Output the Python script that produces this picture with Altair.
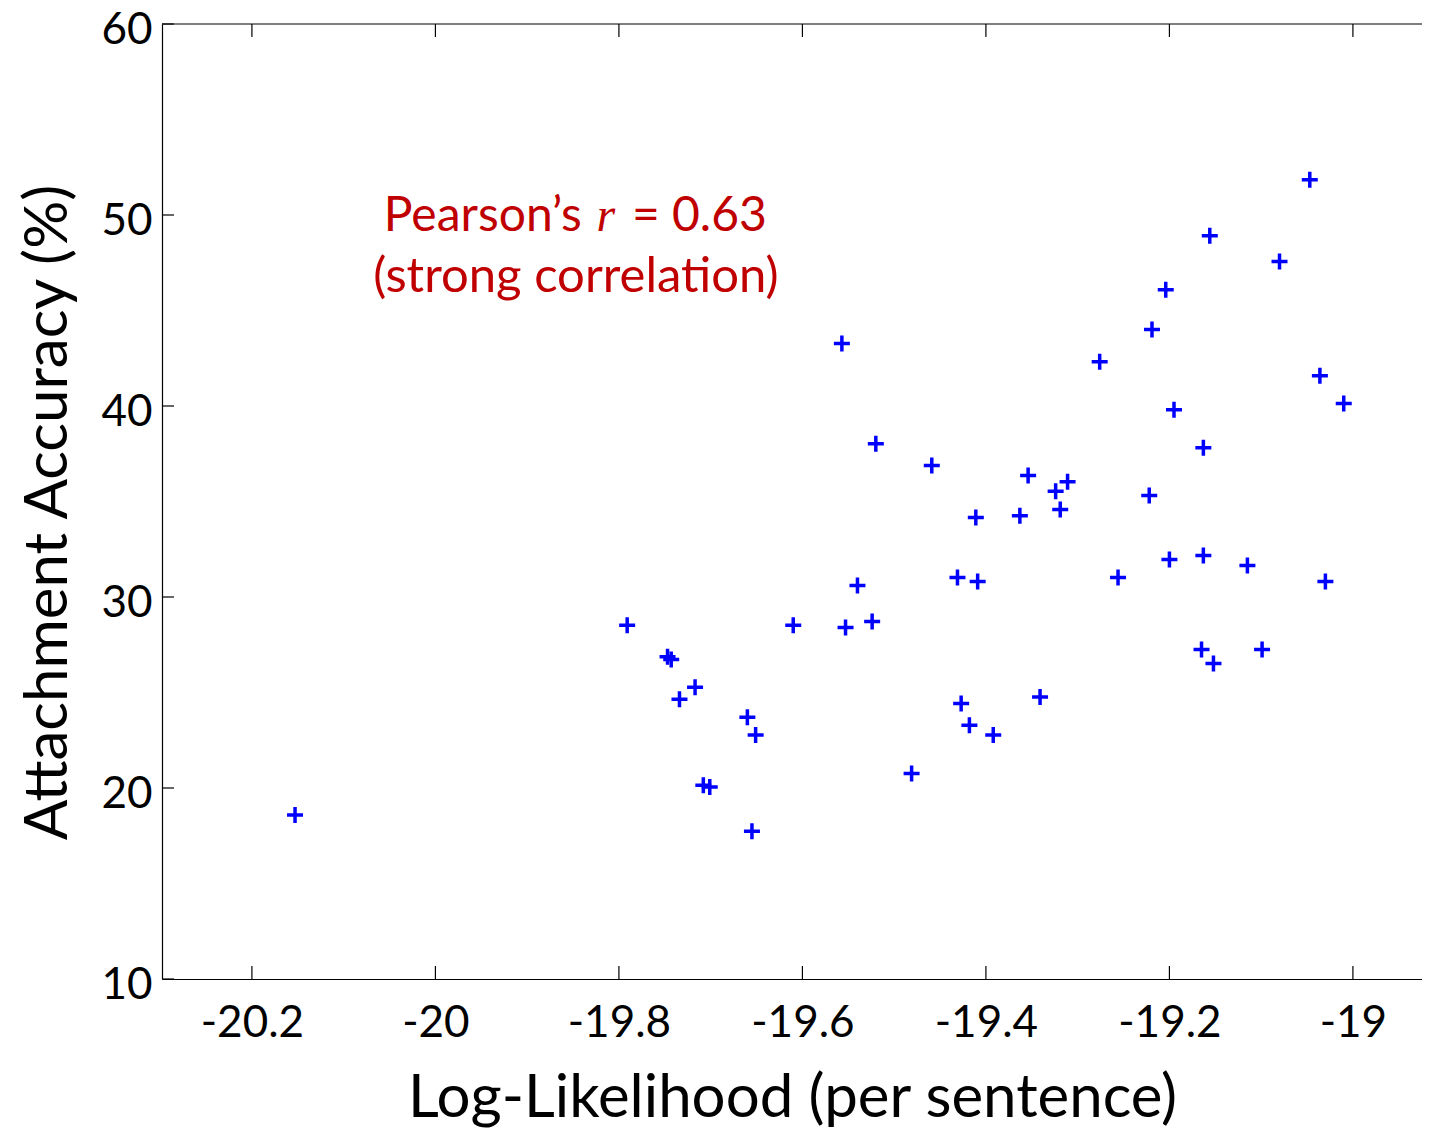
import altair as alt
import pandas as pd

# ---- data ----
log_likelihood = [
    -20.153, -19.791, -19.747, -19.743, -19.717, -19.734, -19.660, -19.651,
    -19.708, -19.701, -19.655, -19.610, -19.557, -19.520, -19.540, -19.524,
    -19.553, -19.481, -19.459, -19.354, -19.311, -19.324, -19.319, -19.411,
    -19.363, -19.431, -19.409, -19.341, -19.427, -19.418, -19.392, -19.156,
    -19.204, -19.219, -19.276, -19.195, -19.163, -19.222, -19.200, -19.163,
    -19.256, -19.165, -19.152, -19.047, -19.080, -19.036, -19.010, -19.115,
    -19.030, -19.099,
]
accuracy = [
    18.58, 28.52, 26.87, 26.73, 25.28, 24.65, 23.71, 22.77,
    20.15, 20.05, 17.74, 28.52, 43.27, 38.03, 30.60, 28.72,
    28.40, 20.76, 36.88, 36.36, 36.04, 35.54, 34.58, 34.16,
    34.26, 31.02, 30.81, 24.76, 24.43, 23.28, 22.77, 48.92,
    46.09, 44.00, 42.32, 39.81, 37.82, 35.31, 31.96, 32.17,
    31.02, 27.25, 26.52, 51.85, 47.56, 41.59, 40.13, 31.65,
    30.81, 27.25,
]

x_ticks = [-20.2, -20.0, -19.8, -19.6, -19.4, -19.2, -19.0]
y_ticks = [10, 20, 30, 40, 50, 60]

x_title = "Log-Likelihood (per sentence)"
y_title = "Attachment Accuracy (%)"

ann_line1 = ["Pearson\u2019s", "r", "= 0.63"]
ann_line2 = "(strong correlation)"
ann_x = -19.848
ann_y1 = 49.14
ann_y2 = 45.95

# ---- layout / style ----
W, H = 1260, 955
X_DOMAIN = [-20.298, -20.298 + W / 917.5]
Y_DOMAIN = [10, 60]
FONT = "Lato"
RED = "#c00000"
BLUE = "#0000ff"
AXIS_COLOR = "#000000"

xs = alt.Scale(domain=X_DOMAIN, nice=False, zero=False)
ys = alt.Scale(domain=Y_DOMAIN, nice=False, zero=False)

df = pd.DataFrame({"ll": log_likelihood, "acc": accuracy})

x_axis = alt.Axis(
    values=x_ticks, title=x_title, ticks=False, grid=False,
    labelExpr="'' + datum.value", labelFont=FONT, labelFontSize=44,
    labelColor="black", labelBaseline="alphabetic", labelPadding=57,
    labelFlush=False, labelOverlap=False, labelBound=False,
    domainColor=AXIS_COLOR, domainWidth=1.2,
    titleFont=FONT, titleFontSize=60, titleFontWeight="normal",
    titleColor="black", titleBaseline="alphabetic", titleY=137,
)
y_axis = alt.Axis(
    values=y_ticks, title=y_title, ticks=False, grid=False,
    labelExpr="'' + datum.value", labelFont=FONT, labelFontSize=44,
    labelColor="black", labelBaseline="alphabetic", labelPadding=10,
    labelOffset=19, labelFlush=False, labelOverlap=False, labelBound=False,
    domainColor=AXIS_COLOR, domainWidth=1.2,
    titleFont=FONT, titleFontSize=60, titleFontWeight="normal",
    titleColor="black", titleBaseline="alphabetic", titleX=-96, titleY=488,
)

X = alt.X("ll:Q", scale=xs, axis=x_axis, title=x_title)
Y = alt.Y("acc:Q", scale=ys, axis=y_axis, title=y_title)

points = alt.Chart(df).mark_point(
    shape="M-1,0L1,0M0,-1L0,1", filled=False, color=BLUE,
    strokeWidth=3.5, size=256, opacity=1,
).encode(x=X, y=Y)

one = pd.DataFrame({"ll": [X_DOMAIN[0]]})
top_border = alt.Chart(one).mark_rule(color=AXIS_COLOR, strokeWidth=1.2).encode(
    x=alt.value(0), x2=alt.value(W), y=alt.value(0)
)

tx = pd.DataFrame({"ll": x_ticks})
ty = pd.DataFrame({"acc": y_ticks})
top_ticks = alt.Chart(tx).mark_rule(color=AXIS_COLOR, strokeWidth=1.2).encode(
    x=X, y=alt.value(0), y2=alt.value(13)
)
bottom_ticks = alt.Chart(tx).mark_rule(color=AXIS_COLOR, strokeWidth=1.2).encode(
    x=X, y=alt.value(H - 13), y2=alt.value(H)
)
left_ticks = alt.Chart(ty).mark_rule(color=AXIS_COLOR, strokeWidth=1.2).encode(
    y=Y, x=alt.value(0), x2=alt.value(12)
)

a1 = pd.DataFrame({"ll": [ann_x], "acc": [ann_y1]})
a2 = pd.DataFrame({"ll": [ann_x], "acc": [ann_y2]})


def ann(data, text, align, dx, font=FONT, style="normal", size=48):
    return alt.Chart(data).mark_text(
        text=text, align=align, dx=dx, baseline="alphabetic", font=font,
        fontSize=size, fontStyle=style, color=RED,
    ).encode(x=X, y=Y)


t1 = ann(a1, ann_line1[0], "right", 7)
t2 = ann(a1, ann_line1[1], "center", 31, font="Liberation Serif", style="italic")
t3 = ann(a1, ann_line1[2], "left", 57)
t4 = ann(a2, ann_line2, "center", 1, size=49)

chart = alt.layer(
    points, top_border, top_ticks, bottom_ticks, left_ticks, t1, t2, t3, t4
).properties(
    width=W, height=H,
    autosize=alt.AutoSizeParams(type="none"),
    padding={"left": 154, "top": 16, "right": 0, "bottom": 150},
    background="white",
).configure_view(stroke="transparent")

chart.save("out.html", embed_options={"renderer": "svg", "actions": False})
